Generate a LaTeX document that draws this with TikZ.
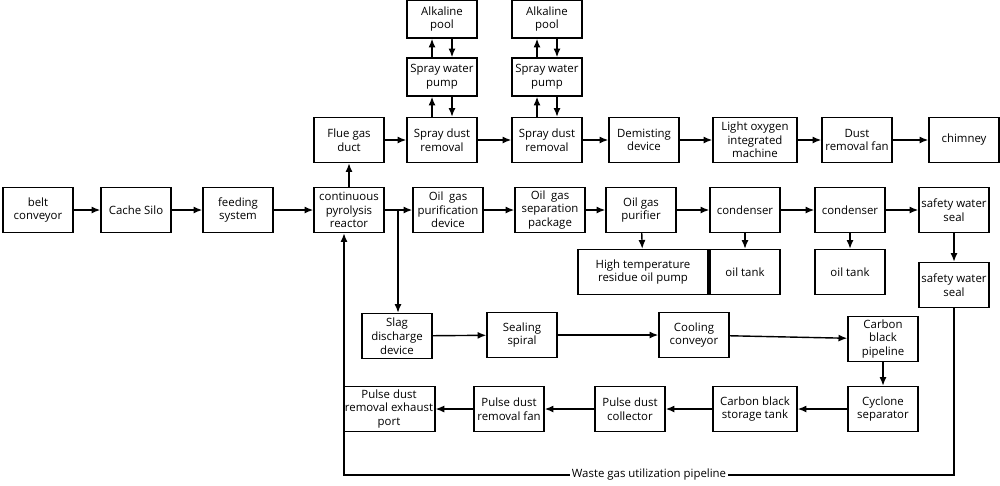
\documentclass[tikz,border=0pt]{standalone}
\usepackage{fontspec}
\setmainfont{Open Sans}
\usetikzlibrary{arrows.meta}

\begin{document}
\begin{tikzpicture}[x=0.02cm, y=-0.02cm,
    box/.style={draw, thick, rectangle, align=center, inner sep=1pt,
        minimum width=1.4cm, minimum height=0.9cm, font=\fontsize{6.5}{7.8}\selectfont},
    wide/.style={box, minimum width=1.68cm},
    flow/.style={-{Latex[length=5pt,width=4pt]}, thick}]
    \useasboundingbox (0,0) rectangle (1000,485);

    % Main line
    \node (belt) [box] at (38,210) {belt\\conveyor};
    \node (silo) [box] at (136,210) {Cache Silo};
    \node (feed) [box] at (238,210) {feeding\\system};
    \node (reactor) [box] at (349,210) {continuous\\pyrolysis\\reactor};
    \node (purif) [box] at (448,210) {Oil\enspace gas\\purification\\device};
    \node (separ) [box] at (550,210) {Oil\enspace gas\\separation\\package};
    \node (purifier) [box] at (641,210) {Oil gas\\purifier};
    \node (cond1) [box] at (745,210) {condenser};
    \node (cond2) [box] at (850,210) {condenser};
    \node (seal1) [box] at (954,210) {safety water\\seal};

    % Flue gas line
    \node (flue) [box] at (349,140) {Flue gas\\duct};
    \node (spray1) [box] at (442,140) {Spray dust\\removal};
    \node (pump1) [box, minimum height=0.76cm] at (442,77) {Spray water\\pump};
    \node (pool1) [box, minimum height=0.76cm] at (442,19) {Alkaline\\pool};
    \node (spray2) [box] at (547,140) {Spray dust\\removal};
    \node (pump2) [box, minimum height=0.76cm] at (547,77) {Spray water\\pump};
    \node (pool2) [box, minimum height=0.76cm] at (547,19) {Alkaline\\pool};
    \node (demist) [box] at (644,140) {Demisting\\device};
    \node (light) [wide] at (755,140) {Light oxygen\\integrated\\machine};
    \node (fan) [box] at (857,140) {Dust\\removal fan};
    \node (chimney) [box] at (964,140) {chimney};

    % Oil outputs
    \node (hot) [box, minimum width=2.6cm] at (643,272) {High temperature\\residue oil pump};
    \node (tank1) [box] at (745,272) {oil tank};
    \node (tank2) [box] at (850,272) {oil tank};
    \node (seal2) [box] at (954,285) {safety water\\seal};

    % Carbon black line
    \node (slag) [box] at (397,336) {Slag\\discharge\\device};
    \node (spiral) [box] at (522,335) {Sealing\\spiral};
    \node (cooling) [box] at (694,335) {Cooling\\conveyor};
    \node (pipe) [box] at (883,339) {Carbon\\black\\pipeline};
    \node (cyclone) [box] at (883,409) {Cyclone\\separator};
    \node (storage) [wide] at (755,409) {Carbon black\\storage tank};
    \node (collector) [box] at (630,409) {Pulse dust\\collector};
    \node (pfan) [box] at (509,409) {Pulse dust\\removal fan};
    \node (port) [wide, minimum width=1.56cm] at (389,409) {Pulse dust\\removal exhaust\\port};

    \coordinate (split) at (398,210);
    \coordinate (low) at (954,475);
    \coordinate (back) at (344,475);

    % Arrows
    \draw[flow] (belt) -- (silo);
    \draw[flow] (silo) -- (feed);
    \draw[flow] (feed) -- (reactor);
    \draw[flow] (reactor) -- (purif);
    \draw[flow] (purif) -- (separ);
    \draw[flow] (separ) -- (purifier);
    \draw[flow] (purifier) -- (cond1);
    \draw[flow] (cond1) -- (cond2);
    \draw[flow] (cond2) -- (seal1);
    \draw[flow] (seal1) -- (seal2);
    \draw[flow] (purifier) -- (hot);
    \draw[flow] (cond1) -- (tank1);
    \draw[flow] (cond2) -- (tank2);

    \draw[flow] (reactor) -- (flue);
    \draw[flow] (flue) -- (spray1);
    \draw[flow] (spray1) -- (spray2);
    \draw[flow] (spray2) -- (demist);
    \draw[flow] (demist) -- (light);
    \draw[flow] (light) -- (fan);
    \draw[flow] (fan) -- (chimney);
    \foreach \n in {1,2} {
        \draw[flow] ([xshift=-0.2cm]spray\n.north) -- ([xshift=-0.2cm]pump\n.south);
        \draw[flow] ([xshift=0.2cm]pump\n.south) -- ([xshift=0.2cm]spray\n.north);
        \draw[flow] ([xshift=-0.2cm]pump\n.north) -- ([xshift=-0.2cm]pool\n.south);
        \draw[flow] ([xshift=0.2cm]pool\n.south) -- ([xshift=0.2cm]pump\n.north);
    }

    \draw[flow] (split) -- (slag.north -| split);
    \draw[flow] (slag) -- (spiral);
    \draw[flow] (spiral) -- (cooling);
    \draw[flow] (cooling) -- (pipe);
    \draw[flow] (pipe) -- (cyclone);
    \draw[flow] (cyclone) -- (storage);
    \draw[flow] (storage) -- (collector);
    \draw[flow] (collector) -- (pfan);
    \draw[flow] (pfan) -- (port);

    \draw[flow] (seal2) -- (low) -- node[fill=white, inner sep=1pt, font=\fontsize{6.5}{7.8}\selectfont] {Waste gas utilization pipeline} (back) -- (back |- reactor.south);
\end{tikzpicture}
\end{document}
